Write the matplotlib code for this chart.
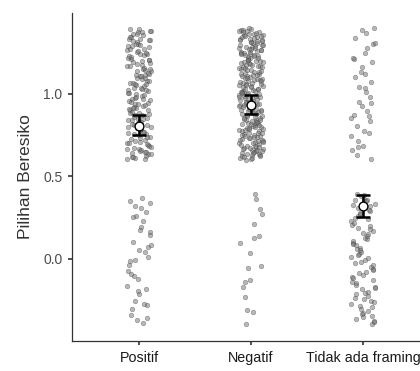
import numpy as np
import matplotlib
matplotlib.use("Agg")
import matplotlib.pyplot as plt

plt.rcParams['font.family'] = ['Liberation Sans', 'DejaVu Sans']

categories = ["Positif", "Negatif", "Tidak ada framing"]
count_zero = [38, 18, 82]
count_one = [155, 230, 38]
means = [0.806, 0.935, 0.322]
ci_low = [0.750, 0.880, 0.255]
ci_high = [0.870, 0.995, 0.388]
yticks = [0.0, 0.5, 1.0]

fig = plt.figure(figsize=(4.2, 3.71), dpi=100)
ax = fig.add_axes([72/420, 30/371, 358/420, 328/371])


def halton(n, base, start):
    out = np.empty(n)
    for j in range(n):
        i = j + start
        f, r = 1.0, 0.0
        while i > 0:
            f /= base
            r += f * (i % base)
            i //= base
        out[j] = r
    return out - 0.5


starts = [7, 311, 1097]
for k, cat in enumerate(categories):
    vals = np.concatenate([np.zeros(count_zero[k]), np.ones(count_one[k])])
    n = len(vals)
    ja = halton(n, 2, starts[k])
    jb = halton(n, 3, starts[k])
    order = np.argsort(halton(n, 5, starts[k]))
    xs = k + ja[order] * 0.22
    ys = vals + jb * 0.8
    ax.scatter(xs, ys, s=11, c='#707070', alpha=0.5, edgecolors='#404040',
               linewidths=0.4, zorder=2)

x = np.arange(len(categories))
means = np.array(means)
yerr = np.array([means - np.array(ci_low), np.array(ci_high) - means])
ax.errorbar(x, means, yerr=yerr, fmt='none', ecolor='black', elinewidth=1.8,
            capsize=5, capthick=1.8, zorder=3)
ax.scatter(x, means, s=40, c='white', edgecolors='black', linewidths=1.0, zorder=4)

ax.set_xlim(-0.6, 2.6)
ax.set_ylim(-0.497, 1.49)
ax.set_xticks(x)
ax.set_xticklabels(categories, fontsize=10.3, color='#1a1a1a')
ax.set_yticks(yticks)
ax.set_yticklabels([f"{v:.1f}" for v in yticks], fontsize=10, color='#4d4d4d')
ax.set_ylabel("Pilihan Beresiko", fontsize=12.5, color='#333333', labelpad=7)
for s in ['top', 'right']:
    ax.spines[s].set_visible(False)
for s in ['left', 'bottom']:
    ax.spines[s].set_color('#333333')
    ax.spines[s].set_linewidth(0.9)
ax.tick_params(axis='both', length=3, width=1.2, color='#333333', pad=4)

fig.savefig("out.png", dpi=100)
